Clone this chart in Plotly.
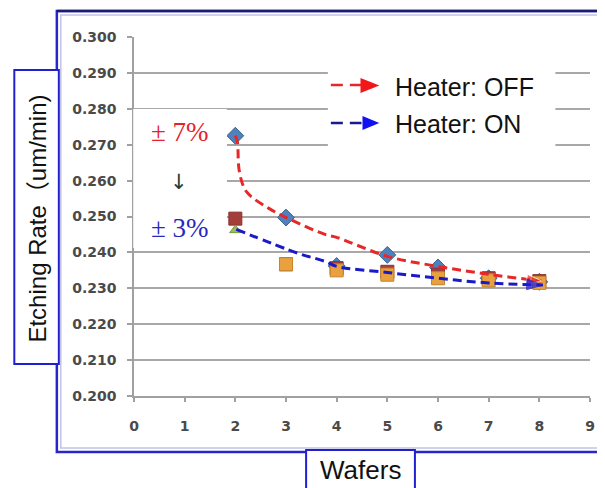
import plotly.graph_objects as go

# ---------------- data ----------------
wafers = [2, 3, 4, 5, 6, 7, 8]
rate_diamond = [0.2725, 0.2497, 0.2362, 0.2393, 0.2358, 0.2328, 0.2318]
rate_square_red = [0.2494, 0.2367, 0.2356, 0.2346, 0.2338, 0.2328, 0.2320]
rate_triangle = [0.2462, 0.2360, 0.2343, 0.2328, 0.2318, 0.2312, 0.2310]
rate_square_orange = [None, 0.2367, 0.2350, 0.2338, 0.2328, 0.2322, 0.2315]

trend_off_x = [2.0, 2.04, 2.08, 2.22, 2.67, 3.05, 3.77, 4.0, 5.0, 6.0, 7.0, 8.05]
trend_off_y = [0.2725, 0.2708, 0.2625, 0.2569, 0.2522, 0.2494, 0.2450, 0.2442, 0.2389, 0.2361, 0.2339, 0.2320]
trend_on_x = [2.02, 3.25, 3.77, 4.0, 5.0, 6.0, 7.0, 8.07]
trend_on_y = [0.2464, 0.2397, 0.2375, 0.2361, 0.2344, 0.2328, 0.2315, 0.2309]

y_ticks = [0.200, 0.210, 0.220, 0.230, 0.240, 0.250, 0.260, 0.270, 0.280, 0.290, 0.300]
x_ticks = [0, 1, 2, 3, 4, 5, 6, 7, 8, 9]

legend_labels = ["Heater: OFF", "Heater: ON"]
pct_labels = ["± 7%", "↓", "± 3%"]

# ---------------- layout helpers (screen pixel -> paper) ----------------
OFF = 8            # page body margin
W, H = 597, 480
L, T = 126, 29
PW, PH = 461, 359
R = W - L - PW
B = H - T - PH


def xp(px):
    return (px - OFF - L) / PW


def yp(py):
    return (T + PH - (py - OFF)) / PH


fig = go.Figure()

fig.add_trace(go.Scatter(x=wafers, y=rate_diamond, mode="markers",
                         marker=dict(symbol="diamond", size=13, color="#4F81BD",
                                     line=dict(color="#3A6690", width=1)),
                         showlegend=False))
fig.add_trace(go.Scatter(x=wafers, y=rate_square_red, mode="markers",
                         marker=dict(symbol="square", size=13, color="#A43E3B",
                                     line=dict(color="#8A3330", width=1)),
                         showlegend=False))
fig.add_trace(go.Scatter(x=wafers, y=rate_triangle, mode="markers",
                         marker=dict(symbol="triangle-up", size=10, color="#9BBB59",
                                     line=dict(color="#7A9A40", width=1)),
                         showlegend=False))
fig.add_trace(go.Scatter(x=wafers, y=rate_square_orange, mode="markers",
                         marker=dict(symbol="square", size=13, color="#E8A13E",
                                     line=dict(color="#C8862C", width=1)),
                         showlegend=False))

# trend arrows
off_sizes = [0] * (len(trend_off_x) - 1) + [16]
on_sizes = [0] * (len(trend_on_x) - 1) + [17]
fig.add_trace(go.Scatter(x=trend_off_x, y=trend_off_y, mode="lines+markers",
                         line=dict(color="#E62828", width=3, dash="9px,5px", shape="spline"),
                         marker=dict(symbol="arrow", angleref="previous", size=off_sizes,
                                     color="#E62828"),
                         showlegend=False))
fig.add_trace(go.Scatter(x=trend_on_x, y=trend_on_y, mode="lines+markers",
                         line=dict(color="#1A1AC8", width=3, dash="9px,5px", shape="spline"),
                         marker=dict(symbol="arrow", angleref="previous", size=on_sizes,
                                     color="#1A1AE0"),
                         showlegend=False))

shapes = []
# outer frame
shapes.append(dict(type="rect", xref="paper", yref="paper",
                   x0=xp(56), x1=xp(615), y0=yp(452), y1=yp(11),
                   line=dict(color="#2626CC", width=2.5), layer="below"))
shapes.append(dict(type="line", xref="paper", yref="paper",
                   x0=xp(56), x1=xp(615), y0=yp(11), y1=yp(11),
                   line=dict(color="#1C1C6E", width=2.5)))
shapes.append(dict(type="rect", xref="paper", yref="paper",
                   x0=xp(60), x1=xp(615), y0=yp(448), y1=yp(15),
                   line=dict(color="#C2C2E4", width=1.5), layer="below"))
# white covers
shapes.append(dict(type="rect", xref="paper", yref="paper",
                   x0=xp(133.2), x1=xp(228), y0=yp(248), y1=yp(109),
                   fillcolor="white", line=dict(width=0), layer="above"))
shapes.append(dict(type="rect", xref="paper", yref="paper",
                   x0=xp(330), x1=xp(560), y0=yp(158), y1=yp(60),
                   fillcolor="white", line=dict(width=0), layer="above"))
shapes.append(dict(type="rect", xref="paper", yref="paper",
                   x0=xp(228), x1=xp(348), y0=yp(256), y1=yp(246),
                   fillcolor="white", line=dict(width=0), layer="between"))
# legend symbols
shapes.append(dict(type="line", xref="paper", yref="paper",
                   x0=xp(333), x1=xp(364), y0=yp(85), y1=yp(85),
                   line=dict(color="#E62828", width=2.5, dash="12px,7px")))
shapes.append(dict(type="path", xref="paper", yref="paper",
                   path=f"M {xp(363)},{yp(78)} L {xp(382)},{yp(85.5)} L {xp(363)},{yp(93)} Z",
                   fillcolor="#F01818", line=dict(width=0)))
shapes.append(dict(type="line", xref="paper", yref="paper",
                   x0=xp(333), x1=xp(364), y0=yp(123), y1=yp(123),
                   line=dict(color="#1A1A90", width=2.5, dash="12px,7px")))
shapes.append(dict(type="path", xref="paper", yref="paper",
                   path=f"M {xp(365)},{yp(116)} L {xp(382)},{yp(123)} L {xp(365)},{yp(130)} Z",
                   fillcolor="#1010F0", line=dict(width=0)))
# axis title boxes
shapes.append(dict(type="rect", xref="paper", yref="paper",
                   x0=xp(13), x1=xp(58), y0=yp(364), y1=yp(70),
                   fillcolor="white", line=dict(color="#2020D0", width=2)))
shapes.append(dict(type="rect", xref="paper", yref="paper",
                   x0=xp(308), x1=xp(418), y0=yp(500), y1=yp(450),
                   fillcolor="white", line=dict(color="#2020D0", width=2)))

annotations = [
    dict(text=legend_labels[0], xref="paper", yref="paper", x=xp(396), y=yp(87),
         xanchor="left", yanchor="middle", showarrow=False,
         font=dict(family="Liberation Sans, Arial", size=25, color="#111111")),
    dict(text=legend_labels[1], xref="paper", yref="paper", x=xp(396), y=yp(124),
         xanchor="left", yanchor="middle", showarrow=False,
         font=dict(family="Liberation Sans, Arial", size=25, color="#111111")),
    dict(text=pct_labels[0], xref="paper", yref="paper", x=xp(180), y=yp(132),
         xanchor="center", yanchor="middle", showarrow=False,
         font=dict(family="Liberation Serif, Times New Roman", size=27, color="#E4222C")),
    dict(text=pct_labels[1], xref="paper", yref="paper", x=xp(179), y=yp(182),
         xanchor="center", yanchor="middle", showarrow=False,
         font=dict(family="DejaVu Sans", size=21, color="#2E3A2E")),
    dict(text=pct_labels[2], xref="paper", yref="paper", x=xp(180), y=yp(228),
         xanchor="center", yanchor="middle", showarrow=False,
         font=dict(family="Liberation Serif, Times New Roman", size=27, color="#2828C0")),
    dict(text="Etching Rate（um/min)", xref="paper", yref="paper", x=xp(35.5), y=yp(219),
         xanchor="center", yanchor="middle", showarrow=False, textangle=-90,
         font=dict(family="Liberation Sans, Noto Sans CJK JP", size=24, color="#111111")),
    dict(text="Wafers", xref="paper", yref="paper", x=xp(363), y=yp(470),
         xanchor="center", yanchor="middle", showarrow=False,
         font=dict(family="Liberation Sans, Arial", size=26, color="#111111")),
]

tick_font = dict(family="DejaVu Sans", size=14, color="#4A4A4A", weight="bold")

fig.update_layout(
    width=W, height=H,
    margin=dict(l=L, r=R, t=T, b=B),
    paper_bgcolor="white", plot_bgcolor="white",
    shapes=shapes, annotations=annotations,
    showlegend=False,
    xaxis=dict(range=[0, 9], tickvals=x_ticks, ticktext=[str(v) for v in x_ticks],
               showgrid=False, zeroline=False, showline=True, linecolor="#A0A0A0", linewidth=1.5,
               ticks="outside", ticklen=4, tickcolor="#A0A0A0", tickwidth=1.5,
               ticklabelstandoff=12, tickfont=tick_font),
    yaxis=dict(range=[0.2, 0.3], tickvals=y_ticks, ticktext=[f"{v:.3f}" for v in y_ticks],
               showgrid=True, gridcolor="#A8A8A8", gridwidth=1.5, zeroline=False,
               showline=True, linecolor="#A0A0A0", linewidth=1.5,
               ticks="outside", ticklen=5, tickcolor="#A0A0A0", tickwidth=1.5,
               ticklabelstandoff=8, tickfont=tick_font),
)

fig.write_html("out.html")
